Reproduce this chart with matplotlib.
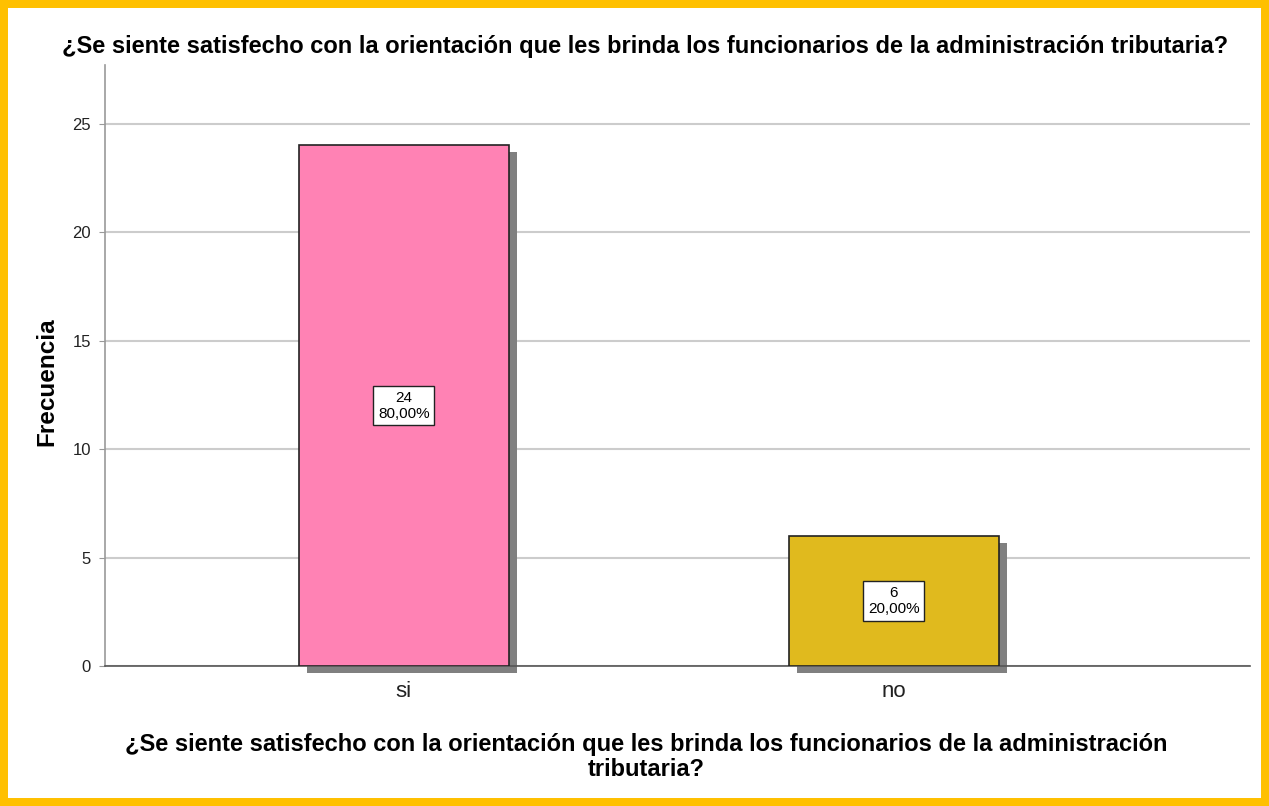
import matplotlib.pyplot as plt
from matplotlib.patches import Rectangle

# data
categories = ["si", "no"]
counts = [24, 6]
percents = ["80,00%", "20,00%"]
bar_colors = ["#FF82B4", "#E0BA1E"]

title = "¿Se siente satisfecho con la orientación que les brinda los funcionarios de la administración tributaria?"
xlabel = "¿Se siente satisfecho con la orientación que les brinda los funcionarios de la administración\ntributaria?"

plt.rcParams['font.family'] = ['Liberation Sans', 'DejaVu Sans']

fig = plt.figure(figsize=(12.69, 8.06), dpi=100)
ax = fig.add_axes([105 / 1269, 1 - 666 / 806, (1250 - 105) / 1269, (666 - 65) / 806])

x = list(range(len(categories)))
width = 0.4286

# drop shadow first, then the bars
ax.bar([xi + 0.0165 for xi in x], counts, width, bottom=-0.32, color="#808080",
       zorder=2, clip_on=False)
ax.bar(x, counts, width, color=bar_colors, edgecolor="#222222", linewidth=1.2, zorder=3)

for xi, c, p in zip(x, counts, percents):
    ax.text(xi, c / 2, f"{c}\n{p}", ha="center", va="center", fontsize=11,
            linespacing=1.2, zorder=4,
            bbox=dict(boxstyle="square,pad=0.3", facecolor="white", edgecolor="#222222", linewidth=1))

ax.set_xlim(-0.61, 1.727)
ax.set_ylim(0, 27.7)
ax.set_yticks([0, 5, 10, 15, 20, 25])
ax.set_xticks(x)
ax.set_xticklabels(categories, fontsize=16)
ax.tick_params(axis="y", labelsize=12, length=4, color="#999999", labelcolor="#222222", pad=6)
ax.tick_params(axis="x", length=0, pad=11, labelcolor="#222222")
ax.grid(axis="y", color="#cccccc", linewidth=1.5, zorder=0)
ax.set_axisbelow(True)

for s in ["top", "right"]:
    ax.spines[s].set_visible(False)
ax.spines["left"].set_color("#999999")
ax.spines["left"].set_linewidth(1.2)
ax.spines["bottom"].set_color("#555555")
ax.spines["bottom"].set_linewidth(1.2)

ax.set_ylabel("Frecuencia", fontsize=17.5, fontweight="bold", labelpad=10)
ax.yaxis.label.set_y(0.4725)

fig.text(645 / 1269, 1 - 47 / 806, title, ha="center", va="center", fontsize=17, fontweight="bold")
fig.text(646 / 1269, 1 - 757 / 806, xlabel, ha="center", va="center", fontsize=17,
         fontweight="bold", linespacing=1.1)

# yellow frame around the whole picture
fig.patches.append(Rectangle((0, 0), 1, 1, transform=fig.transFigure, fill=False,
                             edgecolor="#FFC000", linewidth=11.5))

fig.savefig("out.png", dpi=100)
